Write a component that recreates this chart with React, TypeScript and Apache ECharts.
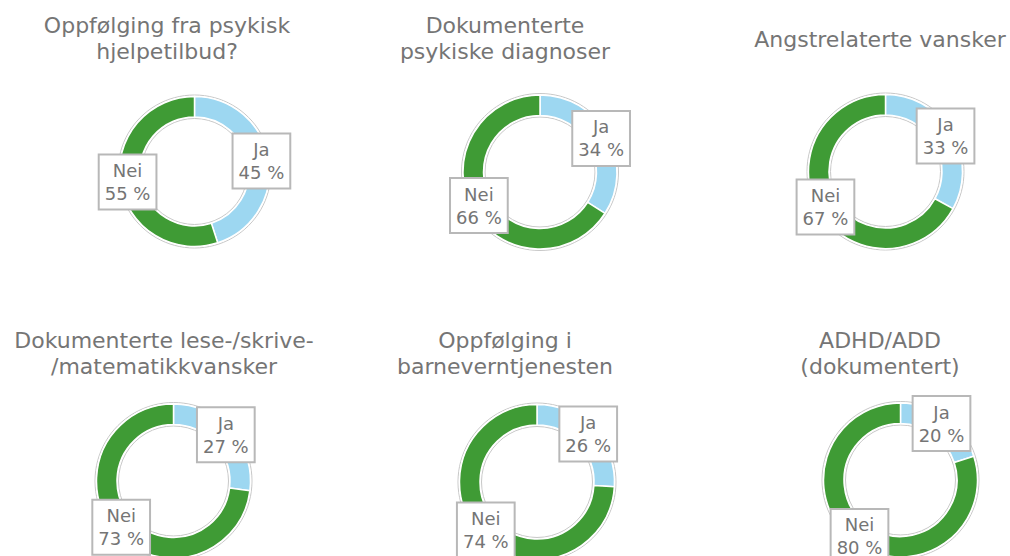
import React, { useEffect, useRef } from "react";
import * as echarts from "echarts";

const titles = [
  "Oppfølging fra psykisk\nhjelpetilbud?",
  "Dokumenterte\npsykiske diagnoser",
  "Angstrelaterte vansker",
  "Dokumenterte lese-/skrive-\n/matematikkvansker",
  "Oppfølging i\nbarneverntjenesten",
  "ADHD/ADD\n(dokumentert)",
];
const categories = ["Ja", "Nei"];
const jaValues = [45, 34, 33, 27, 26, 20];
const neiValues = [55, 66, 67, 73, 74, 80];

const centers = [
  [194.5, 171.5],
  [540, 172],
  [885.5, 171.5],
  [173.5, 481],
  [537, 482],
  [900.5, 480],
];
const outerR = [76.5, 78.5, 78.5, 78.5, 79, 78.5];
const titlePos = [
  [167, 38.5],
  [505, 38.5],
  [880, 39.5],
  [164, 353],
  [505, 353],
  [880, 353],
];

const GREEN = "#3f9b35";
const BLUE = "#9dd7f1";
const TEXT = "#757575";

export default function App() {
  const ref = useRef<HTMLDivElement>(null);
  useEffect(() => {
    document.body.style.margin = "0";
    const chart = echarts.init(ref.current!, null, { renderer: "svg" });
    const series: any[] = [];
    centers.forEach((c, i) => {
      const R = outerR[i];
      series.push({
        type: "pie",
        silent: true,
        center: c,
        radius: [R - 23.5, R],
        startAngle: 90,
        label: { show: false },
        labelLine: { show: false },
        itemStyle: { color: "#ffffff", borderColor: "#c8c8c8", borderWidth: 1 },
        data: [{ value: 1, name: "bg" }],
        z: 1,
      });
      series.push({
        type: "pie",
        center: c,
        radius: [R - 22, R - 1.5],
        startAngle: 90,
        clockwise: true,
        z: 2,
        itemStyle: { borderColor: "#ffffff", borderWidth: 1.5 },
        label: {
          show: true,
          position: "inside",
          formatter: (p: any) => `${p.name}\n${p.value} %`,
          fontFamily: "DejaVu Sans",
          fontSize: 18,
          lineHeight: 23,
          color: TEXT,
          backgroundColor: "#ffffff",
          borderColor: "#b8b8b8",
          borderWidth: 2,
          padding: [4, 5, 3, 5],
          align: "center",
        },
        labelLine: { show: false },
        data: [
          { name: categories[0], value: jaValues[i], itemStyle: { color: BLUE } },
          { name: categories[1], value: neiValues[i], itemStyle: { color: GREEN } },
        ],
      });
    });
    chart.setOption({
      animation: false,
      backgroundColor: "#ffffff",
      graphic: titles.map((t, i) => ({
        type: "text",
        x: titlePos[i][0],
        y: titlePos[i][1],
        style: {
          text: t,
          fill: TEXT,
          font: '22px "DejaVu Sans"',
          lineHeight: 26,
          textAlign: "center",
          textVerticalAlign: "middle",
        },
      })),
      series,
    });
    return () => chart.dispose();
  }, []);
  return <div ref={ref} style={{ width: 1010, height: 556 }} />;
}
